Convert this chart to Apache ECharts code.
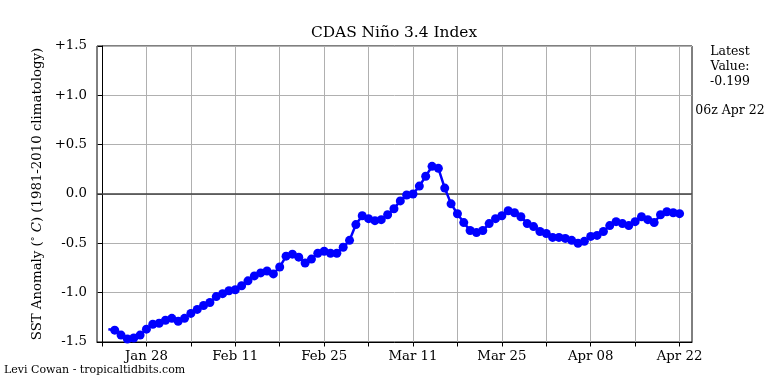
<!DOCTYPE html>
<html>
<head>
<meta charset="utf-8">
<script src="https://cdn.jsdelivr.net/npm/echarts@6/dist/echarts.min.js"></script>
<style>html,body{margin:0;padding:0;background:#fff}#c{width:768px;height:384px}</style>
</head>
<body>
<div id="c"></div>
<script>
// Days counted from Jan 21 00z. Daily points from Jan 23 (day 2) to Apr 22 (day 91).
const firstDay = 2;
const stubDay = 1;          // line segment entering from the left (no marker)
const stubValue = -1.37;
const values = [
  -1.38,-1.43,-1.47,-1.46,-1.43,-1.37,-1.32,-1.31,-1.28,-1.26,
  -1.29,-1.26,-1.21,-1.17,-1.13,-1.10,-1.04,-1.01,-0.98,-0.97,
  -0.93,-0.88,-0.83,-0.80,-0.78,-0.81,-0.74,-0.63,-0.61,-0.64,
  -0.70,-0.66,-0.60,-0.58,-0.60,-0.60,-0.54,-0.47,-0.31,-0.22,
  -0.25,-0.27,-0.26,-0.21,-0.15,-0.07,-0.01,0.00,0.08,0.18,
  0.28,0.26,0.06,-0.10,-0.20,-0.29,-0.37,-0.39,-0.37,-0.30,
  -0.25,-0.22,-0.17,-0.19,-0.23,-0.30,-0.33,-0.38,-0.40,-0.44,
  -0.44,-0.45,-0.47,-0.50,-0.48,-0.43,-0.42,-0.38,-0.32,-0.28,
  -0.30,-0.32,-0.28,-0.23,-0.26,-0.29,-0.21,-0.18,-0.19,-0.199
];
const tickDays = [0,7,14,21,28,35,42,49,56,63,70,77,84,91];
const labelDays = [7,21,35,49,63,77,91];
const tickLabels = ['Jan 28','Feb 11','Feb 25','Mar 11','Mar 25','Apr 08','Apr 22'];
const yTicks = [-1.5,-1.0,-0.5,0.0,0.5,1.0,1.5];
const yTickLabels = ['-1.5','-1.0','-0.5','0.0','+0.5','+1.0','+1.5'];
const xMin = -0.79, xMax = 92.96;
const latestValue = '-0.199';
const latestTime = '06z Apr 22';

const seriesData = [{value:[stubDay, stubValue], symbol:'none'}]
  .concat(values.map((v,i)=>[firstDay+i, v]));

const F = 'DejaVu Serif';
const FS = 13.3;
const chart = echarts.init(document.getElementById('c'), null, {renderer:'canvas'});
chart.setOption({
  animation:false,
  backgroundColor:'#fff',
  grid:{left:97, right:76, top:46, bottom:42, show:true, borderColor:'#000', borderWidth:1, backgroundColor:'transparent', containLabel:false},
  xAxis:{
    type:'value', min:xMin, max:xMax,
    axisLine:{show:true, onZero:false, lineStyle:{color:'#000', width:1}},
    axisTick:{show:true, inside:false, length:4.5, customValues:tickDays, lineStyle:{color:'#000'}},
    axisLabel:{show:true, margin:8, customValues:labelDays, color:'#000', fontFamily:F, fontSize:FS,
      formatter:function(v){const k=labelDays.indexOf(Math.round(v));return k>=0?tickLabels[k]:'';}},
    splitLine:{show:true, lineStyle:{color:'#b0b0b0', width:1}}
  },
  yAxis:{
    type:'value', min:-1.5, max:1.5, interval:0.5,
    axisLine:{show:true, lineStyle:{color:'#000', width:1}},
    axisTick:{show:true, inside:false, length:4.5, lineStyle:{color:'#000'}},
    axisLabel:{show:true, margin:10, color:'#000', fontFamily:F, fontSize:FS,
      formatter:function(v){const k=yTicks.findIndex(t=>Math.abs(t-v)<1e-6);return k>=0?yTickLabels[k]:'';}},
    splitLine:{show:true, lineStyle:{color:'#b0b0b0', width:1}},
    name:'{n|SST Anomaly (}{s|°}{i| C}{n|) (1981-2010 climatology)}',
    nameLocation:'middle', nameGap:53, nameRotate:90,
    nameTextStyle:{color:'#000', fontFamily:F, fontSize:FS,
      rich:{n:{fontFamily:F,fontSize:FS,color:'#000'}, s:{fontFamily:F,fontSize:9.5,color:'#000',verticalAlign:'top'}, i:{fontFamily:F,fontSize:FS,fontStyle:'italic',color:'#000'}}}
  },
  series:[
    {type:'line', z:1, silent:true, symbol:'none', data:[[xMin,0],[xMax,0]],
      lineStyle:{color:'#404040', width:1.6}},
    {type:'line', z:3, data:seriesData, symbol:'circle', symbolSize:9, showSymbol:true,
      itemStyle:{color:'#0000ff'}, lineStyle:{color:'#0000ff', width:2.5}, clip:true}
  ],
  graphic:[
    {type:'text', x:394, y:33, style:{text:'CDAS Niño 3.4 Index', font:'15.4px "DejaVu Serif"', fill:'#000', align:'center', verticalAlign:'middle'}},
    {type:'text', x:730, y:67, style:{text:'Latest\nValue:\n'+latestValue, font:'12.5px "DejaVu Serif"', fill:'#000', align:'center', verticalAlign:'middle', lineHeight:15}},
    {type:'text', x:730, y:111, style:{text:latestTime, font:'12.5px "DejaVu Serif"', fill:'#000', align:'center', verticalAlign:'middle'}},
    {type:'text', x:4, y:370, style:{text:'Levi Cowan - tropicaltidbits.com', font:'11px "DejaVu Serif"', fill:'#000', align:'left', verticalAlign:'middle'}}
  ]
});
</script>
</body>
</html>
